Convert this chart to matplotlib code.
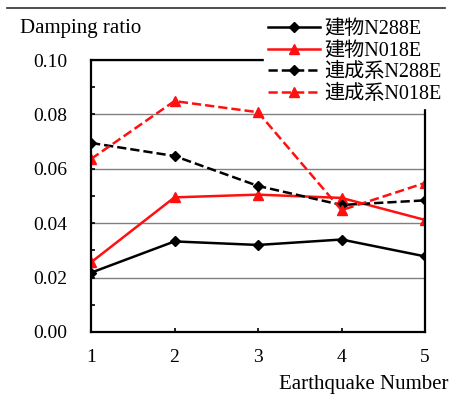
import numpy as np
import matplotlib.pyplot as plt
from matplotlib.lines import Line2D

plt.rcParams['font.family'] = ['Liberation Serif', 'Noto Sans CJK JP']

eq_no = [1, 2, 3, 4, 5]
bld_n288e = [0.0218, 0.0333, 0.0320, 0.0340, 0.0278]
bld_n018e = [0.0256, 0.0495, 0.0505, 0.0493, 0.0412]
coup_n288e = [0.0695, 0.0647, 0.0537, 0.0467, 0.0484]
coup_n018e = [0.0636, 0.0849, 0.0808, 0.0448, 0.0548]
labels = ['建物N288E', '建物N018E', '連成系N288E', '連成系N018E']

fig = plt.figure(figsize=(4.51, 4.03), dpi=100)
ax = fig.add_axes([0.2018, 0.1762, 0.7406, 0.6749])

ax.plot(eq_no, bld_n288e, '-', color='black', marker='D', ms=5, lw=1.8, label=labels[0])
ax.plot(eq_no, bld_n018e, '-', color='#ff1010', marker='^', ms=7, lw=1.8, label=labels[1])
ax.plot(eq_no, coup_n288e, '--', color='black', marker='D', ms=5, lw=1.8, label=labels[2])
ax.plot(eq_no, coup_n018e, '--', color='#ff1010', marker='^', ms=7, lw=1.8, label=labels[3])

ax.set_xlim(1, 5)
ax.set_ylim(0, 0.10)
ax.set_xticks(eq_no)
ax.set_yticks(np.arange(0, 0.101, 0.02))
ax.set_yticks(np.arange(0.01, 0.1, 0.02), minor=True)
ax.set_yticklabels(['%.2f' % v for v in np.arange(0, 0.101, 0.02)])
ax.tick_params(axis='both', direction='in', labelsize=14, length=3, width=1.2)
ax.tick_params(axis='y', which='minor', direction='in', length=3, width=1.2)
ax.tick_params(axis='x', pad=12)
ax.tick_params(axis='y', pad=17)
ax.yaxis.grid(True, color='#808080', lw=1)
ax.set_axisbelow(True)
for s in ax.spines.values():
    s.set_linewidth(1.6)

fig.text(0.045, 0.93, 'Damping ratio', fontsize=15, va='center')
fig.text(0.995, 0.045, 'Earthquake Number', fontsize=15, ha='right', va='center')
fig.add_artist(Line2D([0.016, 0.987], [0.98, 0.98], color='#303030', lw=1.2))

leg = ax.legend(loc='upper right', bbox_to_anchor=(1.01, 0.985), bbox_transform=fig.transFigure,
                fontsize=14.5, frameon=True, fancybox=False, edgecolor='white', framealpha=1,
                handlelength=2.6, handletextpad=0.2, labelspacing=0.12, borderpad=0.2)
leg.set_zorder(10)

fig.savefig('out.png', dpi=100)
